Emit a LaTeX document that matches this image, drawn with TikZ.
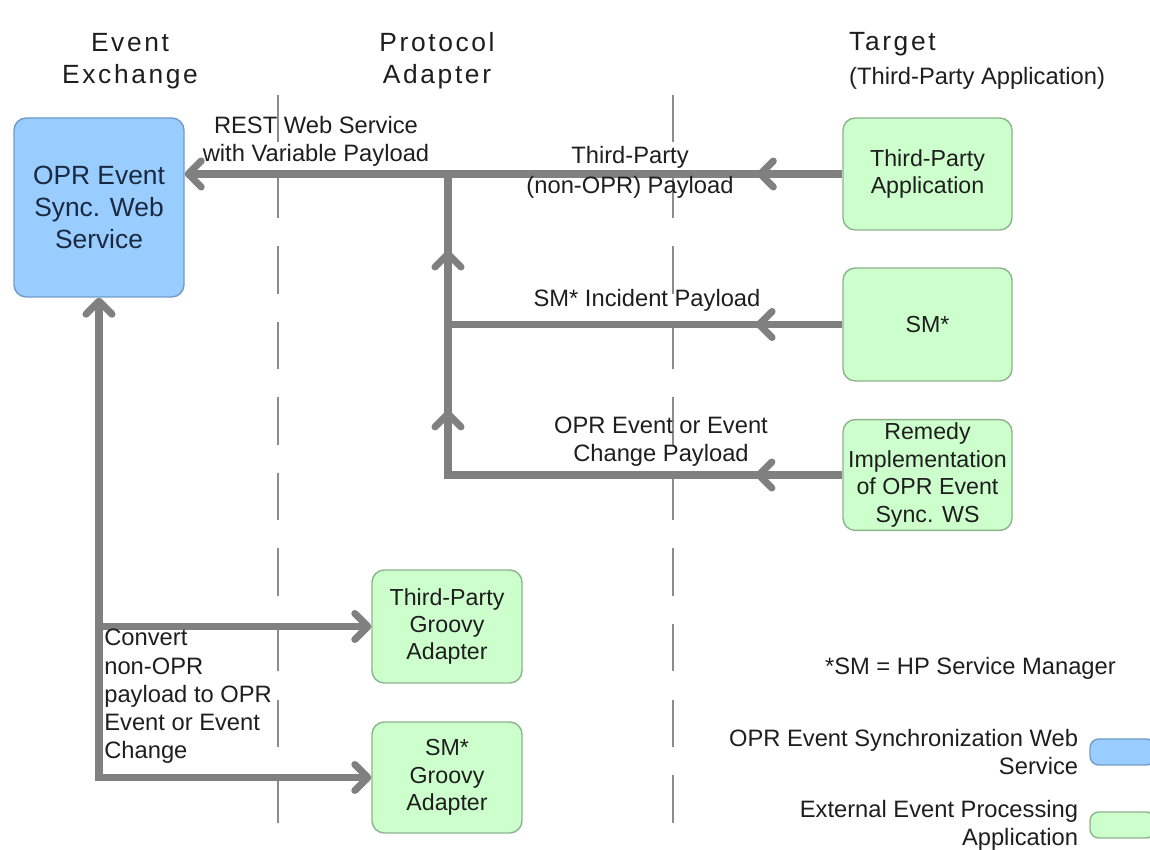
\documentclass[tikz,border=0pt]{standalone}
\usepackage{fontspec}
\setmainfont{Liberation Sans}
\newfontfamily\headfont[LetterSpace=10]{Liberation Sans}
\usepackage{tikz}
\usetikzlibrary{arrows.meta,positioning,decorations.markings}
\definecolor{syncblue}{HTML}{99CCFF}
\definecolor{syncblueline}{HTML}{6F9BCB}
\definecolor{synctext}{HTML}{1A2840}
\definecolor{extgreen}{HTML}{CCFFCC}
\definecolor{extgreenline}{HTML}{8DB38D}
\definecolor{flowgray}{HTML}{808080}
\definecolor{lanegray}{HTML}{8C8C8C}
\definecolor{inkgray}{HTML}{1E1E1E}
\tikzset{chev/.tip={Straight Barb[length=2.6mm,width=5.2mm,round]}}

\begin{document}
\begin{tikzpicture}[
  font=\fontsize{13.5}{16}\selectfont, text=inkgray,
  box/.style={rounded corners=7pt,draw,line width=0.8pt,align=center,inner sep=2pt},
  wsbox/.style={box,fill=syncblue,draw=syncblueline,text=synctext,minimum width=3.4cm,minimum height=3.58cm,font=\fontsize{15}{18}\selectfont},
  extbox/.style={box,fill=extgreen,draw=extgreenline,minimum width=3.38cm,font=\fontsize{13.2}{15.6}\selectfont},
  head/.style={align=center,font=\headfont\fontsize{15}{18}\selectfont},
  lbl/.style={align=center},
  lane/.style={lanegray,line width=0.9pt,dash pattern=on 27pt off 16pt},
  flow/.style={flowgray,line width=4pt},
  midtip/.style={postaction={decorate,decoration={markings,mark=at position #1 with {\arrow{chev}}}}}]
\useasboundingbox (0,0) rectangle (23,17);
% swim lanes
\draw[lane] (5.56,15.1) -- (5.56,0);
\draw[lane] (13.46,15.1) -- (13.46,0);
\node[head] (hexch) at (2.6,15.78) {Event\\Exchange};
\node[head] (hprot) at (8.74,15.78) {Protocol\\Adapter};
\node[head,anchor=west] (htarg) at (16.86,16.12) {Target};
\node[anchor=west] (hsub) at (16.86,15.44) {(Third-Party Application)};
% boxes
\node[wsbox] (ws) at (1.98,12.85) {OPR Event\\Sync. Web\\Service};
\node[extbox,minimum height=2.24cm] (tpa) at (18.55,13.52) {Third-Party\\Application};
\node[extbox,minimum height=2.26cm] (sm) at (18.55,10.51) {SM*};
\node[extbox,minimum height=2.2cm] (rem) at (18.55,7.5) {Remedy\\Implementation\\of OPR Event\\Sync. WS};
\node[extbox,minimum width=3cm,minimum height=2.26cm] (tpg) at (8.94,4.47) {Third-Party\\Groovy\\Adapter};
\node[extbox,minimum width=3cm,minimum height=2.22cm] (smg) at (8.94,1.45) {SM*\\Groovy\\Adapter};
% flows
\coordinate (jx) at (8.96,0);
\coordinate (lowcorner) at (ws.south |- smg.west);
\draw[flow,-chev,midtip=0.13] (tpa.west) -- (ws.east |- tpa.west);
\draw[flow,midtip=0.22] (sm.west) -- (jx |- sm.west);
\draw[flow,midtip=0.125,midtip=0.66,midtip=0.89] (rem.west) -- (jx |- rem.west) -- (jx |- tpa.west);
\draw[flow,chev-chev] (ws.south) -- (lowcorner) -- (smg.west);
\draw[flow,-chev] (ws.south |- tpg.west) -- (tpg.west);
% labels
\node[lbl] (lrest) at (6.32,14.18) {REST Web Service\\with Variable Payload};
\node[lbl,font=\fontsize{13.5}{17}\selectfont] (ltp) at (12.6,13.56) {Third-Party\\(non-OPR) Payload};
\node[lbl] (lsm) at (12.94,11.0) {SM* Incident Payload};
\node[lbl] (lopr) at (13.22,8.16) {OPR Event or Event\\Change Payload};
\node[align=left,anchor=north west,inner sep=0pt] (lconv) at (2.08,4.42) {Convert\\non-OPR\\payload to OPR\\Event or Event\\Change};
\node[anchor=east] (lsmnote) at (22.44,3.64) {*SM = HP Service Manager};
% legend
\node[box,fill=syncblue,draw=syncblueline,minimum width=1.3cm,minimum height=0.52cm,rounded corners=5pt] (kblue) at (22.45,1.96) {};
\node[align=right,left=0.1cm of kblue] (kbluetxt) {OPR Event Synchronization Web\\Service};
\node[box,fill=extgreen,draw=extgreenline,minimum width=1.3cm,minimum height=0.52cm,rounded corners=5pt] (kgreen) at (22.45,0.5) {};
\node[align=right,left=0.1cm of kgreen] (kgreentxt) {External Event Processing\\Application};
\end{tikzpicture}
\end{document}
